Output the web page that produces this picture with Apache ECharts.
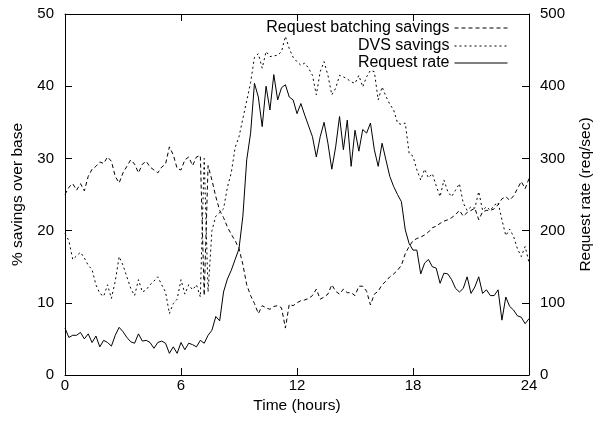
<!DOCTYPE html>
<html>
<head>
<meta charset="utf-8">
<script src="https://cdn.jsdelivr.net/npm/echarts@6/dist/echarts.min.js"></script>
<style>
html,body{margin:0;padding:0;background:#fff;}
#chart{width:596px;height:427px;}
</style>
</head>
<body>
<div id="chart"></div>
<script>
// Time grid (hours), sampled every 0.2 h from 0 to 24
var timeStep = 0.2;
var xTicks = [0, 6, 12, 18, 24];
var leftTicks = [0, 10, 20, 30, 40, 50];
var rightTicks = [0, 100, 200, 300, 400, 500];

var seriesNames = ['Request batching savings', 'DVS savings', 'Request rate'];

// % savings from request batching (left axis)
var batchingSavings = [
  25, 26, 26.5, 25.6, 26.5, 25.5, 27.5, 28.5, 28.9, 29.5,
  29.3, 30.2, 29.6, 27.5, 26.6, 28, 28.9, 29.8, 29.2, 28,
  29.2, 29.6, 28.8, 28.4, 28, 28.8, 29.2, 31.6, 30.5, 28.6,
  28.4, 29.8, 30.2, 29, 30.2, 30.4, 11, 29, 27, 24.7,
  22.8, 21.8, 20.5, 19.5, 18.6, 17.5, 15.3, 12.5, 11, 9.9,
  8.5, 9.6, 9.3, 9.1, 9.5, 9.6, 9.3, 6.5, 9.8, 9.6,
  10, 10.3, 10.4, 10.6, 11, 11.9, 10.5, 10.8, 11.2, 12.5,
  11.6, 11.2, 11.9, 11.4, 11.4, 11, 12.3, 12.3, 11.6, 9.7,
  11.2, 11.6, 12.5, 13, 13.6, 14, 14.5, 15.2, 16.8, 17.8,
  18.6, 18.9, 19.1, 19.4, 19.8, 20.4, 20.6, 21, 21.3, 21.5,
  21.8, 22.2, 22.8, 22, 22.5, 22.8, 23.1, 21.5, 22.6, 22.8,
  22.8, 23, 23.6, 24.4, 24.7, 24.2, 24.8, 25.8, 26.8, 25.8,
  27.2
];

// % savings from DVS (left axis)
var dvsSavings = [
  19.6, 18.6, 16, 16.5, 17, 16.2, 15.2, 14.6, 12.5, 11.3,
  10.9, 12.5, 10.6, 13, 16.4, 15.2, 13.6, 12, 11, 13.2,
  11.5, 11.8, 12.5, 13, 13.6, 12.5, 11.5, 8.5, 9.9, 10.5,
  13.2, 11.2, 12.5, 11.8, 12.5, 10.8, 30, 11.5, 20, 22,
  22.5, 23, 26, 28, 31.5, 33, 35.5, 38, 40.5, 44,
  44.5, 42.5, 44.8, 44.1, 44.2, 44.3, 44.8, 46.9, 45.2, 44,
  43.4, 42.9, 43.2, 42.5, 41.5, 38.8, 42, 43.4, 41.5, 38.8,
  39.7, 41.5, 41.3, 41, 40.6, 40.4, 41.5, 39.9, 41.3, 42.2,
  42, 38.1, 39.9, 38.6, 37.5, 36.7, 34.9, 34.7, 34.9, 30.7,
  30.3, 28.4, 27, 28.5, 27.3, 27.9, 26.2, 24.7, 27, 25.4,
  24.7, 25.6, 26.5, 23.8, 22.8, 23.3, 23.1, 25.4, 22.8, 23.3,
  22.8, 23.5, 23.9, 21.5, 19.3, 20.2, 19.2, 17.5, 16.4, 17.8,
  15.6
];

// Request rate in req/sec (right axis)
var requestRate = [
  65, 52, 55, 55, 59, 50, 57, 45, 54, 39,
  48, 45, 40, 55, 66, 60, 52, 46, 44, 57,
  47, 48, 45, 37, 45, 47, 44, 30, 39, 30,
  45, 35, 44, 42, 39, 48, 44, 55, 62, 81,
  75, 115, 133, 145, 160, 175, 220, 298, 335, 404,
  385, 344, 400, 367, 416, 381, 398, 402, 385, 381,
  362, 376, 360, 345, 330, 302, 330, 350, 321, 285,
  316, 358, 312, 353, 289, 339, 310, 340, 335, 349,
  312, 289, 321, 298, 275, 261, 250, 240, 201, 182,
  173, 173, 140, 155, 160, 150, 148, 127, 141, 140,
  132, 120, 115, 120, 136, 113, 122, 136, 113, 118,
  110, 110, 118, 76, 108, 95, 90, 82, 80, 71,
  78
];

function pairs(vals) {
  return vals.map(function (v, i) { return [+(i * timeStep).toFixed(2), v]; });
}

var font = 'Liberation Sans, Arial, Helvetica, sans-serif';
var tickStyle = { color: '#000', fontSize: 15, fontFamily: font };
var nameStyle = { color: '#000', fontSize: 15.5, fontFamily: font };

var chart = echarts.init(document.getElementById('chart'), null, { renderer: 'canvas' });

function legendFor(name, top) {
  return {
    data: [name],
    right: 88,
    top: top,
    orient: 'horizontal',
    align: 'right',
    itemWidth: 53,
    itemHeight: 10,
    itemGap: 6,
    padding: 0,
    itemStyle: { opacity: 0, borderWidth: 0 },
    lineStyle: { width: 1 },
    textStyle: { color: '#000', fontSize: 16, fontFamily: font },
    selectedMode: false
  };
}

chart.setOption({
  animation: false,
  backgroundColor: '#fff',
  grid: { left: 65, right: 67, top: 14, bottom: 52, show: false, containLabel: false, outerBoundsMode: 'none' },
  legend: [
    legendFor(seriesNames[0], 20),
    legendFor(seriesNames[1], 38),
    legendFor(seriesNames[2], 55)
  ],
  xAxis: [
    {
      type: 'value', position: 'bottom', min: xTicks[0], max: xTicks[xTicks.length - 1], interval: 6,
      name: 'Time (hours)', nameLocation: 'middle', nameGap: 17,
      nameTextStyle: nameStyle,
      axisLine: { show: true, onZero: false, lineStyle: { color: '#000', width: 1 } },
      axisTick: { show: true, inside: true, length: 7, lineStyle: { color: '#000' } },
      axisLabel: Object.assign({ margin: 3 }, tickStyle),
      splitLine: { show: false }
    },
    {
      type: 'value', position: 'top', min: xTicks[0], max: xTicks[xTicks.length - 1], interval: 6,
      axisLine: { show: true, onZero: false, lineStyle: { color: '#000', width: 1 } },
      axisTick: { show: true, inside: true, length: 7, lineStyle: { color: '#000' } },
      axisLabel: { show: false },
      splitLine: { show: false }
    }
  ],
  yAxis: [
    {
      type: 'value', position: 'left', min: leftTicks[0], max: leftTicks[leftTicks.length - 1], interval: 10,
      name: '% savings over base', nameLocation: 'middle', nameGap: 39, nameRotate: 90,
      nameTextStyle: nameStyle,
      axisLine: { show: true, onZero: false, lineStyle: { color: '#000', width: 1 } },
      axisTick: { show: true, inside: true, length: 7, lineStyle: { color: '#000' } },
      axisLabel: Object.assign({ margin: 11 }, tickStyle),
      splitLine: { show: false }
    },
    {
      type: 'value', position: 'right', min: rightTicks[0], max: rightTicks[rightTicks.length - 1], interval: 100,
      name: 'Request rate (req/sec)', nameLocation: 'middle', nameGap: 49, nameRotate: 90,
      nameTextStyle: nameStyle,
      axisLine: { show: true, onZero: false, lineStyle: { color: '#000', width: 1 } },
      axisTick: { show: true, inside: true, length: 7, lineStyle: { color: '#000' } },
      axisLabel: Object.assign({ margin: 11 }, tickStyle),
      splitLine: { show: false }
    }
  ],
  series: [
    {
      name: seriesNames[0], type: 'line', xAxisIndex: 0, yAxisIndex: 0,
      data: pairs(batchingSavings), symbol: 'none', showSymbol: false,
      color: '#000',
      lineStyle: { color: '#000', width: 1, type: [4, 3] }
    },
    {
      name: seriesNames[1], type: 'line', xAxisIndex: 0, yAxisIndex: 0,
      data: pairs(dvsSavings), symbol: 'none', showSymbol: false,
      color: '#000',
      lineStyle: { color: '#000', width: 1, type: [2, 3] }
    },
    {
      name: seriesNames[2], type: 'line', xAxisIndex: 0, yAxisIndex: 1,
      data: pairs(requestRate), symbol: 'none', showSymbol: false,
      color: '#000',
      lineStyle: { color: '#000', width: 1, type: 'solid' }
    }
  ]
});
</script>
</body>
</html>
